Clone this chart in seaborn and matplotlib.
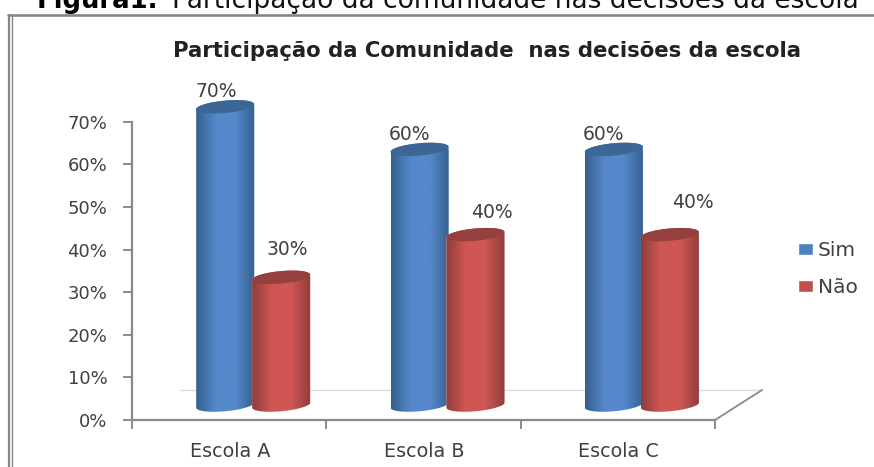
import numpy as np
import pandas as pd
import matplotlib
matplotlib.use("Agg")
import matplotlib.pyplot as plt
from matplotlib.path import Path
from matplotlib.patches import PathPatch
from matplotlib.colors import LinearSegmentedColormap
import seaborn as sns

categories = ["Escola A", "Escola B", "Escola C"]
sim_values = [70, 60, 60]
nao_values = [30, 40, 40]
series_names = ["Sim", "Não"]
colors = ["#4f81bd", "#c0504d"]
edge_dark = ["#35608f", "#8f3d3b"]
center_light = ["#5588ca", "#cf5653"]
top_colors = ["#3c6696", "#93403e"]
# label offsets from the bar top centre, in pixels (series, then category)
label_dx = [[-9, -10, -10], [6, 16, 23]]
label_dy = [[15, 15, 15], [28, 22, 32]]

W, H = 874, 467
sns.set_theme(style="white")
plt.rcParams["font.family"] = ["DejaVu Sans"]

fig = plt.figure(figsize=(W / 100, H / 100), dpi=100, facecolor="white")
ax = fig.add_axes([132 / W, 1 - 420 / H, (715 - 132) / W, (420 - 121.7) / H])

df = pd.DataFrame({
    "Escola": categories * 2,
    "Serie": [series_names[0]] * 3 + [series_names[1]] * 3,
    "Valor": sim_values + nao_values,
})
BASE = 3.5          # 3-D floor lift of the columns, in % units
sns.barplot(data=df, x="Escola", y="Valor", hue="Serie", order=categories,
            hue_order=series_names, palette=colors, width=0.576, gap=0,
            saturation=1, errorbar=None, ax=ax, legend=True)

ax.set_xlim(-0.5, 2.5)
ax.set_ylim(0, 70)
ax.set_xlabel("")
ax.set_ylabel("")
SHIFT = 24 / 194.3   # columns sit forward of the axis, shifted right
COL_W = 58 / 194.3
b = 1.45             # ellipse half height
tilt = 0.6           # ellipse tilt


def ell(xc, yc, a, t):
    return xc + a * np.cos(t), yc + b * np.sin(t) + tilt * np.cos(t)


for s, cont in enumerate(ax.containers):
    cmap = LinearSegmentedColormap.from_list(
        "c", [edge_dark[s], center_light[s], center_light[s], edge_dark[s]],
        N=128)
    grad = cmap(np.linspace(0, 1, 128))[None, :, :]
    for c, bar in enumerate(cont.patches):
        xc = bar.get_x() + bar.get_width() / 2 + SHIFT
        a = COL_W / 2
        bar.set_y(BASE)
        y0 = bar.get_y()
        y1 = y0 + bar.get_height()
        bar.set_x(xc - a)
        bar.set_width(COL_W)
        # body outline
        tb = np.linspace(np.pi, 2 * np.pi, 40)
        tt = np.linspace(0, np.pi, 40)
        xb, yb = ell(xc, y0, a, tb)
        xt, yt = ell(xc, y1, a, tt)
        verts = np.r_[np.c_[xb, yb], np.c_[xt, yt], [[xb[0], yb[0]]]]
        body = Path(verts)
        zb = 3 + s
        clip = PathPatch(body, transform=ax.transData, fc="none", ec="none")
        ax.add_patch(clip)
        clip.set_clip_on(False)
        bar.set_zorder(zb)
        bar.set_clip_box(fig.bbox)
        bar.set_clip_path(clip)
        im = ax.imshow(grad, extent=[xc - a, xc + a, y0 - 3, y1 + 3],
                       aspect="auto", zorder=zb + 0.1, interpolation="bilinear")
        im.set_clip_box(fig.bbox)
        im.set_clip_path(clip)
        # top cap
        tc = np.linspace(0, 2 * np.pi, 80)
        xc2, yc2 = ell(xc, y1, a, tc)
        ax.fill(xc2, yc2, color=top_colors[s], lw=0, zorder=zb + 0.2, clip_on=False)
        # value label
        ax.annotate(f"{int(round(bar.get_height()))}%", xy=(xc, y1),
                    xytext=(label_dx[s][c] * 0.72, label_dy[s][c] * 0.72),
                    textcoords="offset points", ha="center", va="center",
                    fontsize=13.5, color="#404040", zorder=10, annotation_clip=False)

ax.set_xlim(-0.5, 2.5)
ax.set_ylim(0, 70)

# axes styling
for side in ["top", "right"]:
    ax.spines[side].set_visible(False)
for side in ["left", "bottom"]:
    ax.spines[side].set_color("#8a8a8a")
    ax.spines[side].set_linewidth(1.6)
ax.set_yticks(np.arange(0, 71, 10))
ax.set_yticklabels([f"{v}%" for v in range(0, 71, 10)], fontsize=13, color="#404040")
ax.set_xticks(np.arange(-0.5, 3, 1), minor=False)
ax.set_xticklabels([])
ax.tick_params(axis="both", which="major", length=6.2, width=1.4, color="#8a8a8a",
               left=True, bottom=True)
ax.tick_params(axis="y", pad=11.5)
for i, cat in enumerate(categories):
    ax.annotate(cat, xy=(i, 0), xycoords=("data", "axes fraction"), xytext=(0.5, -22.5),
                textcoords="offset points", ha="center", va="center",
                fontsize=13.8, color="#404040", annotation_clip=False)

# 3-D floor
floor_y = 7.04
ax.plot([-0.253, 2.742], [floor_y, floor_y], color="#dcdcdc", lw=1, zorder=1, clip_on=False)
ax.plot([2.5, 2.742], [0, floor_y], color="#8a8a8a", lw=1.3, zorder=2, clip_on=False)

# legend
sns.move_legend(ax, "upper left", bbox_to_anchor=(798 / W, 1 - 241 / H),
                bbox_transform=fig.transFigure, frameon=False, title=None,
                handlelength=0.72, handleheight=0.6,
                labelspacing=0.9, handletextpad=0.25, borderpad=0, borderaxespad=0,
                labelcolor="#404040", prop={"size": 14.5})

# chart title
fig.text(487 / W, 1 - 51 / H, "Participação da Comunidade  nas decisões da escola",
         ha="center", va="center", fontsize=15.3, fontweight="bold", color="#222222")

# caption above the chart (cropped at the top of the picture)
fig.text(158 / W, 1 - 8 / H, "Figura1.", ha="right", va="baseline", fontsize=18.7,
         fontweight="bold", color="black")
fig.text(172 / W, 1 - 8 / H, "Participação da comunidade nas decisões da escola",
         ha="left", va="baseline", fontsize=19, color="#111111")

# page frame
for (x0, y0, x1, y1), lw in [
    ((8.5, 467, 8.5, 14.5), 2.2), ((11.7, 467, 11.7, 16), 1.4), ((8, 14.7, 874, 14.7), 2.6)
]:
    fig.add_artist(plt.Line2D([x0 / W, x1 / W], [1 - y0 / H, 1 - y1 / H],
                              color="#858585", lw=lw * 0.72))

fig.savefig("out.png", dpi=100, facecolor="white")
